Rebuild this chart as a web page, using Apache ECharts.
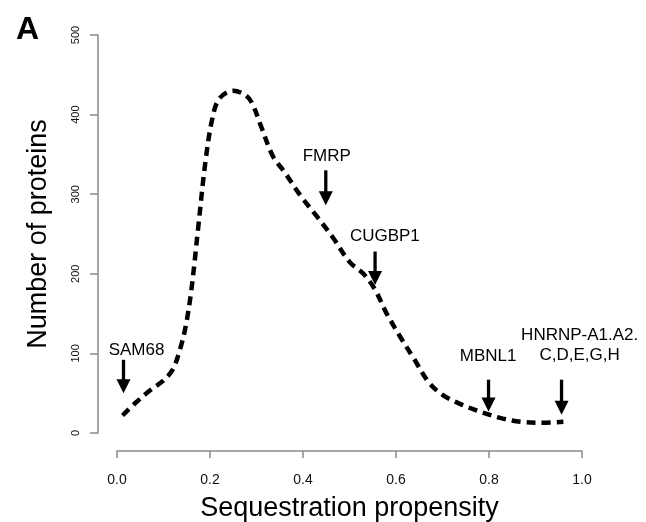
<!DOCTYPE html>
<html>
<head>
<meta charset="utf-8">
<script src="https://cdn.jsdelivr.net/npm/echarts@6/dist/echarts.min.js"></script>
<style>html,body{margin:0;padding:0;background:#fff;}#c{width:646px;height:522px;}</style>
</head>
<body>
<div id="c"></div>
<script>
// Density curve (sequestration propensity vs number of proteins)
var curveX = [0.012,0.04,0.07,0.10,0.12,0.135,0.148,0.16,0.175,0.19,0.205,0.22,0.25,0.275,0.29,0.31,0.335,0.36,0.395,0.43,0.465,0.50,0.53,0.555,0.58,0.61,0.64,0.67,0.70,0.74,0.77,0.80,0.83,0.87,0.91,0.96];
var curveY = [22,38,53,66,80,104,135,180,260,340,395,420,430,425,415,385,348,328,298,272,245,215,200,180,150,120,92,64,48,36,29,23,18,14,13,14];

// Annotated proteins
var annNames = ['SAM68','FMRP','CUGBP1','MBNL1','HNRNP-A1.A2.\nC,D,E,G,H'];
var arrowX = [0.014,0.449,0.555,0.799,0.956];
var arrowTop = [92,330,228,67,67];
var arrowTip = [50,286,186,27,23];
var labelX = [0.042,0.451,0.576,0.798,0.995];
var labelY = [104,348,247,96,110];

var xTicks = [0,0.2,0.4,0.6,0.8,1.0];
var yTicks = [0,100,200,300,400,500];

var chart = echarts.init(document.getElementById('c'));
var curveData = curveX.map(function(x,i){return [x,curveY[i]];});
var arrowData = arrowX.map(function(x,i){return [x,arrowTop[i],arrowTip[i]];});
var labelData = labelX.map(function(x,i){return {value:[x,labelY[i]], name:annNames[i]};});
var FF = 'Liberation Sans, Arial, sans-serif';

chart.setOption({
  animation:false,
  backgroundColor:'#fff',
  title:{text:'A', left:11, top:9, textStyle:{fontFamily:FF, fontSize:32, fontWeight:'bold', color:'#000'}},
  grid:{left:117, right:64, top:35, bottom:89, containLabel:false, outerBoundsMode:'none'},
  xAxis:{
    type:'value', min:xTicks[0], max:xTicks[xTicks.length-1], interval:0.2, offset:18,
    name:'Sequestration propensity', nameLocation:'middle', nameGap:44,
    nameTextStyle:{fontFamily:FF, fontSize:27, color:'#000'},
    axisLine:{onZero:false, lineStyle:{color:'#8a8a8a', width:1.5}},
    axisTick:{length:7, lineStyle:{color:'#8a8a8a', width:1.5}},
    splitLine:{show:false},
    axisLabel:{margin:22, fontSize:14, color:'#111', fontFamily:FF, formatter:function(v){return v.toFixed(1);}}
  },
  yAxis:{
    type:'value', min:yTicks[0], max:yTicks[yTicks.length-1], interval:100, offset:19,
    name:'Number of proteins', nameLocation:'middle', nameGap:46,
    nameTextStyle:{fontFamily:FF, fontSize:27, color:'#000'},
    axisLine:{show:true, onZero:false, lineStyle:{color:'#8a8a8a', width:1.5}},
    axisTick:{show:true, length:8, lineStyle:{color:'#8a8a8a', width:1.5}},
    splitLine:{show:false},
    axisLabel:{rotate:90, margin:17, fontSize:11, color:'#111', fontFamily:FF}
  },
  series:[
    {type:'line', data:curveData, smooth:0.35, showSymbol:false, symbol:'none',
     lineStyle:{color:'#000', width:4.5, type:[9,6], cap:'butt'}},
    {type:'custom', data:arrowData,
     renderItem:function(params, api){
       var p1 = api.coord([api.value(0), api.value(1)]);
       var p2 = api.coord([api.value(0), api.value(2)]);
       var head = 14, hw = 7;
       return {type:'group', children:[
         {type:'line', shape:{x1:p1[0], y1:p1[1], x2:p2[0], y2:p2[1]-head+2}, style:{stroke:'#000', lineWidth:3.3}},
         {type:'polygon', shape:{points:[[p2[0]-hw,p2[1]-head],[p2[0]+hw,p2[1]-head],[p2[0],p2[1]]]}, style:{fill:'#000'}}
       ]};
     }},
    {type:'scatter', data:labelData, symbolSize:0, silent:true, itemStyle:{opacity:1},
     label:{show:true, position:'inside', formatter:function(p){return p.name;}, color:'#000', opacity:1,
            fontSize:17, lineHeight:20, fontFamily:FF}}
  ]
});
</script>
</body>
</html>
